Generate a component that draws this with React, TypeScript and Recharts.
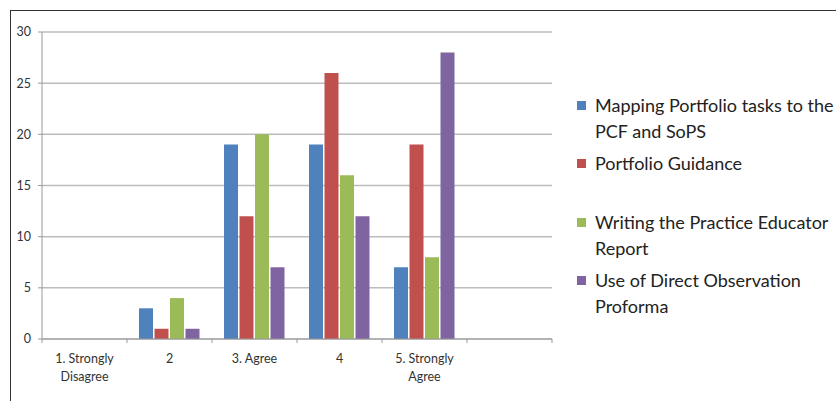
import { BarChart, Bar, XAxis, YAxis, CartesianGrid } from 'recharts';

const categories = ['1. Strongly|Disagree', '2', '3. Agree', '4', '5. Strongly|Agree', ''];
const mapping = [0, 3, 19, 19, 7, null];
const guidance = [0, 1, 12, 26, 19, null];
const writing = [0, 4, 20, 16, 8, null];
const observation = [0, 1, 7, 12, 28, null];
const yTicks = [0, 5, 10, 15, 20, 25, 30];

const series = [
  { key: 'mapping', name: 'Mapping Portfolio tasks to the PCF and SoPS', lines: ['Mapping Portfolio tasks to the', 'PCF and SoPS'], color: '#4F81BD' },
  { key: 'guidance', name: 'Portfolio Guidance', lines: ['Portfolio Guidance'], color: '#C0504D' },
  { key: 'writing', name: 'Writing the Practice Educator Report', lines: ['Writing the Practice Educator', 'Report'], color: '#9BBB59' },
  { key: 'observation', name: 'Use of Direct Observation Proforma', lines: ['Use of Direct Observation', 'Proforma'], color: '#8064A2' },
];

const data = categories.map((c, i) => ({
  cat: c,
  mapping: mapping[i],
  guidance: guidance[i],
  writing: writing[i],
  observation: observation[i],
}));

const FONT = "Lato, 'Open Sans', sans-serif";

function CatTick({ x, y, payload }: any) {
  const half = payload.offset || 42.5;
  const parts = String(payload.value).split('|').filter(Boolean);
  return (
    <g>
      <line x1={x + half} x2={x + half} y1={y - 8} y2={y - 4} stroke="#999" strokeWidth={1} />
      {x - half < 50 && <line x1={x - half} x2={x - half} y1={y - 8} y2={y - 4} stroke="#999" strokeWidth={1} />}
      {parts.map((p, i) => (
        <text key={i} x={x} y={y + 16 + i * 18} textAnchor="middle" fontFamily={FONT}
          fontSize={12.5} fill="#333">{p}</text>
      ))}
    </g>
  );
}

function LegendBox() {
  return (
    <div style={{ position: 'absolute', left: 577, top: 92, width: 260,
      fontFamily: FONT, fontSize: 18, color: '#222' }}>
      {series.map(s => (
        <div key={s.key} style={{ position: 'relative', height: 58.3, paddingLeft: 18 }}>
          <div style={{ position: 'absolute', left: 0, top: 9, width: 9, height: 9, background: s.color }} />
          {s.lines.map((l, i) => (
            <div key={i} style={{ lineHeight: '26px', whiteSpace: 'nowrap' }}>{l}</div>
          ))}
        </div>
      ))}
    </div>
  );
}

export default function App() {
  return (
    <div style={{ position: 'absolute', left: 0, top: 0, width: 836, height: 401, background: '#fff', overflow: 'hidden' }}>
      <div style={{ position: 'absolute', left: 10, top: 10, width: 900, height: 500,
        borderTop: '1.5px solid #333', borderLeft: '1.5px solid #333' }} />
      <BarChart width={836} height={401} data={data}
        margin={{ top: 32, right: 284, bottom: 0, left: 0 }}
        barCategoryGap={12} barGap={1.5}>
        <CartesianGrid vertical={false} stroke="#bcbcbc" strokeWidth={1.5} />
        <YAxis width={42} domain={[0, 30]} ticks={yTicks} interval={0}
          tick={{ fontFamily: FONT, fontSize: 12.5, fill: '#333' }}
          tickLine={{ stroke: '#999' }} tickSize={4} tickMargin={7}
          axisLine={{ stroke: '#999' }} />
        <XAxis dataKey="cat" height={62} interval={0} tick={<CatTick />}
          tickLine={false} axisLine={{ stroke: '#999' }} />
        {series.map(s => (
          <Bar key={s.key} dataKey={s.key} name={s.name} fill={s.color}
            isAnimationActive={false} />
        ))}
      </BarChart>
      <LegendBox />
    </div>
  );
}
